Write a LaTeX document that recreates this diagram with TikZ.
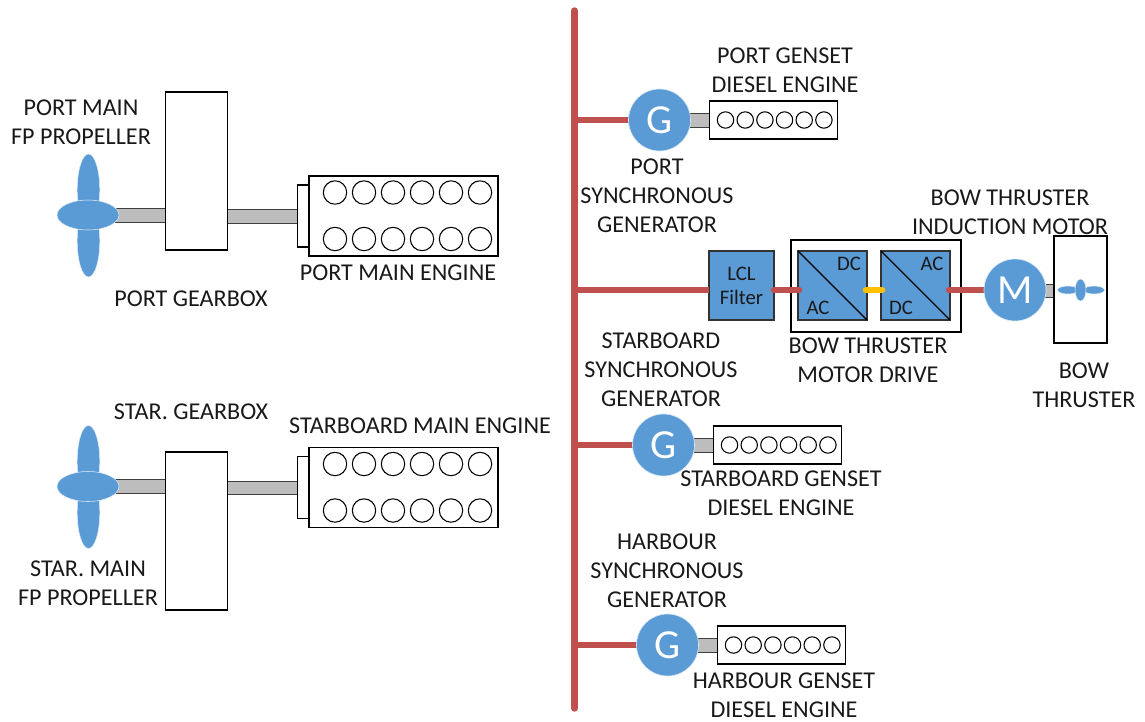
\documentclass[tikz,border=0pt]{standalone}
\usepackage{fontspec}
\setmainfont{Carlito}
\definecolor{bl}{HTML}{5B9BD5}
\definecolor{rd}{HTML}{C0504D}
\definecolor{yl}{HTML}{FFC000}
\definecolor{sh}{HTML}{BDBDBD}
\tikzset{
 x=0.75pt,y=-0.75pt,
 lbl/.style={font=\fontsize{18.1}{21.7}\selectfont,align=center,text=black!90,inner sep=0pt},
 box/.style={draw=black,line width=0.9pt,fill=white},
 shaft/.style={draw=black!75,line width=0.7pt,fill=sh},
 cyl/.style={draw=black,line width=0.8pt,fill=white},
 blade/.style={fill=bl,draw=white!80!bl,line width=0.4pt},
 conv/.style={fill=bl,draw=black!80,line width=0.8pt},
 disc/.style={circle,fill=bl,draw=white!75!bl,line width=0.5pt,minimum size=46.5pt,inner sep=0pt,text=white,font=\fontsize{31}{31}\selectfont},
 power/.style={rd,line width=5pt,line cap=round},
 dclink/.style={yl,line width=5pt,line cap=round},
 convtxt/.style={font=\fontsize{15.5}{17.5}\selectfont,text=black!90,inner sep=0pt,align=center}
}
\newcommand{\mainset}[2]{% y offset, gearbox y offset
 \begin{scope}[yshift=-#1*0.75pt]
 \draw[shaft] (115,208) rectangle (166,222);
 \draw[shaft] (227,209.5) rectangle (298,223);
 \fill[blade] (88.5,190) ellipse (11.3 and 36);
 \fill[blade] (88.5,241) ellipse (11.3 and 36);
 \draw[blade] (88,215) ellipse (31 and 15);
 \draw[box] (297.5,185) rectangle (309,247);
 \draw[box] (309,176) rectangle (498,256);
 \foreach \cx in {335,364,393,422,451,480}{
  \draw[cyl] (\cx,192.5) circle (11.7);
  \draw[cyl] (\cx,239) circle (11.7);
 }
 \end{scope}
 \begin{scope}[yshift=-#2*0.75pt]
 \draw[box] (165.5,92) rectangle (227.5,250);
 \end{scope}}
\newcommand{\genset}[3]{% name, cx, cy
 \begin{scope}[xshift=#2*0.75pt,yshift=-#3*0.75pt]
 \draw[power,line cap=butt] (0,0) -- (60,0);
 \draw[shaft] (110,-7) rectangle (136,7);
 \draw[box] (135,-19) rectangle (263,19);
 \foreach \cx in {151,170.7,190.4,210,229.7,249.4}{\draw[cyl] (\cx,0) circle (8.2);}
 \node[disc] (#1) at (85,0) {G};
 \end{scope}}
\begin{document}
\begin{tikzpicture}
\useasboundingbox (0,0) rectangle (1145,721);
\mainset{0}{0}
\mainset{271.5}{360}
% bus
\coordinate (bt) at (574.5,11); \coordinate (bb) at (574.5,708);
\draw[rd,line width=5.6pt,line cap=round] (bt) -- (bb);
\genset{g1}{574.5}{120}
\genset{g2}{578.5}{445}
\draw[power,line cap=butt] (574.5,445) -- (600,445);
\genset{g3}{582.5}{645}
\draw[power,line cap=butt] (574.5,645) -- (600,645);
% drive row
\coordinate (bm) at (574.5,290);
\draw[box] (791,240) rectangle (961,332);
\draw[conv] (709,251) rectangle (774,320);
\node[convtxt] (lcl) at (741.5,286) {LCL\\Filter};
\draw[power,line cap=butt] (bm) -- (709,290);
\draw[conv] (798,251) rectangle (867,320);
\draw[conv] (881,251) rectangle (950,320);
\draw[black,line width=0.9pt] (798,251) -- (867,320);
\draw[black,line width=0.9pt] (881,251) -- (950,320);
\node[convtxt] (c1a) at (818,308) {AC};
\node[convtxt] (c1b) at (849,264) {DC};
\node[convtxt] (c2a) at (901,308) {DC};
\node[convtxt] (c2b) at (932,264) {AC};
\draw[power] (774,290) -- (799,290);
\draw[dclink] (866,290) -- (882,290);
\draw[power] (949,290) -- (985,290);
\draw[shaft] (1044,284) rectangle (1054,297);
\draw[box] (1054,236) rectangle (1107,343);
\fill[blade] (1068,290) ellipse (10.5 and 4);
\fill[blade] (1094,290) ellipse (10.5 and 4);
\fill[blade] (1080.5,290) ellipse (5.5 and 11);
\node[disc] (m) at (1015,290) {M};
% labels
\node[lbl] (t1) at (81,122) {PORT MAIN\\FP PROPELLER};
\node[lbl] (t2) at (191,299) {PORT GEARBOX};
\node[lbl] (t3) at (398,273) {PORT MAIN ENGINE};
\node[lbl] (t4) at (191,412) {STAR. GEARBOX};
\node[lbl] (t5) at (420,426) {STARBOARD MAIN ENGINE};
\node[lbl] (t6) at (88,583) {STAR. MAIN\\FP PROPELLER};
\node[lbl] (t7) at (785,70) {PORT GENSET\\DIESEL ENGINE};
\node[lbl] (t8) at (657,196) {PORT\\SYNCHRONOUS\\GENERATOR};
\node[lbl] (t9) at (1010,212) {BOW THRUSTER\\INDUCTION MOTOR};
\node[lbl] (t10) at (868,360) {BOW THRUSTER\\MOTOR DRIVE};
\node[lbl] (t11) at (1084,385) {BOW\\THRUSTER};
\node[lbl] (t12) at (661,370) {STARBOARD\\SYNCHRONOUS\\GENERATOR};
\node[lbl] (t13) at (781,493) {STARBOARD GENSET\\DIESEL ENGINE};
\node[lbl] (t14) at (667,571) {HARBOUR\\SYNCHRONOUS\\GENERATOR};
\node[lbl] (t15) at (784,695) {HARBOUR GENSET\\DIESEL ENGINE};
\end{tikzpicture}
\end{document}
